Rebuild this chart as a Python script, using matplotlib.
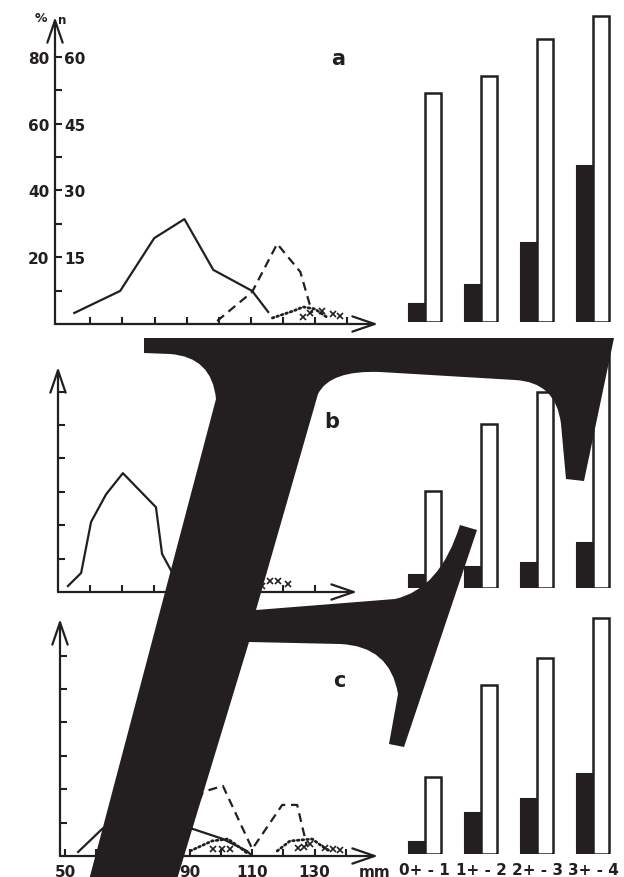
import matplotlib
matplotlib.use('Agg')
import matplotlib.pyplot as plt
from matplotlib.path import Path
from matplotlib.patches import PathPatch
from matplotlib.transforms import Affine2D

INK = '#231f20'
W, H = 624, 878

# ---- length-frequency curves (mm, %) ----
a_solid_mm = [55, 69.3, 79.9, 89.3, 98.3, 110.4, 115.4]
a_solid_pct = [3.3, 9.9, 25.7, 31.4, 16.2, 9.9, 3.6]
a_dash_mm = [99.5, 110.4, 118.2, 125.4, 129.1]
a_dash_pct = [0.9, 9.6, 24.0, 15.6, 3.3]
a_dot_mm = [116.7, 123.2, 126.3, 130.0, 132.2, 134.1]
a_dot_pct = [1.8, 3.9, 5.1, 4.5, 3.0, 1.8]
a_x_mm = [126.3, 128.5, 132.2, 135.7, 137.9]
a_x_pct = [2.1, 3.3, 3.9, 3.0, 2.4]

b_solid_mm = [53.1, 57.2, 60.3, 65.0, 70.2, 80.5, 82.4, 85.8]
b_solid_pct = [1.8, 5.7, 21.0, 29.3, 35.6, 25.4, 11.4, 5.4]
b_x_mm = [113.6, 116.1, 118.6, 121.7]
b_x_pct = [1.8, 3.3, 3.3, 2.4]

c_solid_mm = [54.2, 61.9, 70, 78, 85, 91.0, 100.6, 108.3, 110.0]
c_solid_pct = [1.2, 8.1, 14, 15, 11, 8.1, 5.1, 1.5, 0.0]
c_dash_mm = [86, 91, 94.2, 100.6, 110.0, 119.6, 124.4, 127.5]
c_dash_pct = [0.5, 12, 19.2, 21.0, 2.1, 15.3, 15.3, 3.0]
c_dot_mm = [90.1, 97.1, 102.2, 106.7, 108.7, float('nan'),
            118.0, 122.1, 129.2, 132.7, 134.9]
c_dot_pct = [1.5, 4.5, 5.1, 2.1, 0.6, float('nan'),
             1.5, 4.5, 5.1, 2.7, 1.5]
c_x_mm = [97.4, 100.3, 102.9, 124.7, 126.6, 128.5, 133.3, 135.9, 138.1]
c_x_pct = [2.1, 2.1, 2.1, 2.4, 2.7, 3.6, 2.4, 2.1, 1.8]

# ---- age-class bars ----
age_labels = ['0+ - 1', '1+ - 2', '2+ - 3', '3+ - 4']
a_black = [5.4, 11.1, 23.7, 46.7]
a_white = [68.6, 73.7, 84.7, 91.6]
b_black = [3.9, 6.3, 7.5, 13.5]
b_white = [29.0, 49.1, 58.7, 71.6]
c_black = [3.6, 12.3, 16.5, 24.0]
c_white = [23.1, 50.6, 58.7, 70.7]

pct_ticks = [10, 20, 30, 40, 50, 60, 70, 80]
pct_labels = ['', '20', '', '40', '', '60', '', '80']
n_ticks = [15, 30, 45, 60]
mm_ticks = [50, 60, 70, 80, 90, 100, 110, 120, 130, 140]
mm_labels = ['50', '', '70', '', '90', '', '110', '', '130', '']

plt.rcParams['font.family'] = ['Liberation Sans Narrow', 'DejaVu Sans']
plt.rcParams['font.weight'] = 'bold'


def box(left, top, right, bottom):
    return [left / W, 1 - bottom / H, (right - left) / W, (bottom - top) / H]


fig = plt.figure(figsize=(W / 100, H / 100), dpi=100)


def line_panel(rect, xlim, ylim, xticks, yticks):
    ax = fig.add_axes(box(*rect))
    ax.set_xlim(*xlim)
    ax.set_ylim(*ylim)
    ax.patch.set_visible(False)
    for s in ax.spines.values():
        s.set_visible(False)
    ax.set_xticks(xticks)
    ax.set_yticks(yticks)
    ax.tick_params(direction='in', length=5, width=1.5, color=INK,
                   labelbottom=False, labelleft=False, labelcolor=INK,
                   labelsize=11, pad=4)
    for end in [(1, 0), (0, 1)]:
        ax.annotate('', xy=end, xytext=(0, 0), xycoords='axes fraction',
                    arrowprops=dict(arrowstyle='->,head_length=1.6,head_width=0.55',
                                    lw=1.6, color=INK, shrinkA=0, shrinkB=0,
                                    mutation_scale=10))
    return ax


def curves(ax, solid, dash=None, dot=None, xs=None):
    ax.plot(*solid, color=INK, lw=1.6)
    if dash:
        ax.plot(*dash, color=INK, lw=1.6, ls=(0, (4, 2.6)))
    if dot:
        ax.plot(*dot, color=INK, lw=2.0, ls=(0, (0.6, 1.1)), dash_capstyle='round')
    if xs:
        ax.plot(*xs, ls='none', marker='x', ms=4, mew=1.2, color=INK)


def bar_panel(bottom, black, white, labels=None):
    ax = fig.add_axes(box(394, bottom - 95 * 3.34, 624, bottom))
    ax.set_xlim(-0.55, 3.55)
    ax.set_ylim(0, 95)
    ax.patch.set_visible(False)
    for s in ax.spines.values():
        s.set_visible(False)
    x = range(len(black))
    w = 0.29
    ax.bar([i - w / 2 for i in x], black, width=w, color=INK, edgecolor=INK, lw=1.5)
    ax.bar([i + w / 2 for i in x], white, width=w, color='white', edgecolor=INK, lw=1.8)
    ax.set_yticks([])
    if labels:
        ax.set_xticks(list(x))
        ax.set_xticklabels(labels)
        ax.tick_params(axis='x', length=0, pad=5.5, labelsize=11, labelcolor=INK)
    else:
        ax.set_xticks([])
    return ax


# panel a
ax_a = line_panel((55, 18, 378, 325), (49, 149.6), (0, 91.9), mm_ticks[1:], pct_ticks)
ax_a.tick_params(axis='y', labelleft=True)
ax_a.set_yticklabels(pct_labels)
curves(ax_a, (a_solid_mm, a_solid_pct), (a_dash_mm, a_dash_pct),
       (a_dot_mm, a_dot_pct), (a_x_mm, a_x_pct))
sec = ax_a.secondary_yaxis(0, functions=(lambda p: p * 0.75, lambda n: n / 0.75))
sec.set_alignment('right')
sec.set_yticks(n_ticks)
sec.tick_params(length=0, pad=6.5, labelsize=11, labelcolor=INK)
for s in sec.spines.values():
    s.set_visible(False)
fig.text(41 / W, 1 - 19 / H, '%', ha='center', va='center', fontsize=9, color=INK)
fig.text(62 / W, 1 - 20 / H, 'n', ha='center', va='center', fontsize=8.5, color=INK)

# panel b
ax_b = line_panel((58, 368, 357, 593), (50, 143.1), (0, 67.4), mm_ticks[1:9], pct_ticks[:6])
curves(ax_b, (b_solid_mm, b_solid_pct), xs=(b_x_mm, b_x_pct))

# panel c
ax_c = line_panel((60, 620, 378, 857), (48.4, 150.3), (0, 71), mm_ticks, pct_ticks[:6])
ax_c.set_xticklabels(mm_labels)
ax_c.tick_params(axis='x', labelbottom=True, pad=5.5)
curves(ax_c, (c_solid_mm, c_solid_pct), (c_dash_mm, c_dash_pct),
       (c_dot_mm, c_dot_pct), (c_x_mm, c_x_pct))
ax_c.annotate('mm', xy=(149.3, 0), xycoords=('data', 'axes fraction'),
              xytext=(0, -5.5), textcoords='offset points',
              ha='center', va='top', fontsize=11, color=INK)

bar_panel(323, a_black, a_white)
bar_panel(589, b_black, b_white)
bar_panel(855, c_black, c_white, age_labels)

for letter, xp, yp in [('a', 338, 65), ('b', 332, 428), ('c', 339, 687)]:
    fig.text(xp / W, 1 - yp / H, letter, ha='center', va='baseline',
             fontsize=15, family='DejaVu Sans', weight='bold', color=INK)

# big italic "F" ornament laid over the page (outline in page pixels, y down)
M, L, C, Z = Path.MOVETO, Path.LINETO, Path.CURVE3, Path.CLOSEPOLY
f_outline = [
    (M, (144, 339)), (L, (614, 339)), (L, (584, 482)), (L, (566, 480)),
    (L, (561, 425)), (C, (556, 383)), (C, (515, 381)), (L, (380, 373)),
    (C, (330, 371)), (C, (318, 395)), (L, (256, 611)), (L, (395, 600)),
    (C, (440, 590)), (C, (460, 526)), (L, (477, 531)), (L, (404, 748)),
    (L, (389, 745)), (L, (398, 695)), (C, (390, 647)), (C, (340, 645)),
    (L, (249, 643)), (L, (171, 900)), (L, (84, 900)), (L, (216, 400)),
    (C, (212, 358)), (C, (170, 355)), (L, (144, 354)), (Z, (144, 339)),
]
f_path = Path([p for _, p in f_outline], [c for c, _ in f_outline])
page_px = Affine2D().scale(1 / W, -1 / H).translate(0, 1) + fig.transFigure
fig.add_artist(PathPatch(f_path, transform=page_px, facecolor=INK,
                         edgecolor='none', zorder=10))

fig.savefig('out.png', dpi=100)
